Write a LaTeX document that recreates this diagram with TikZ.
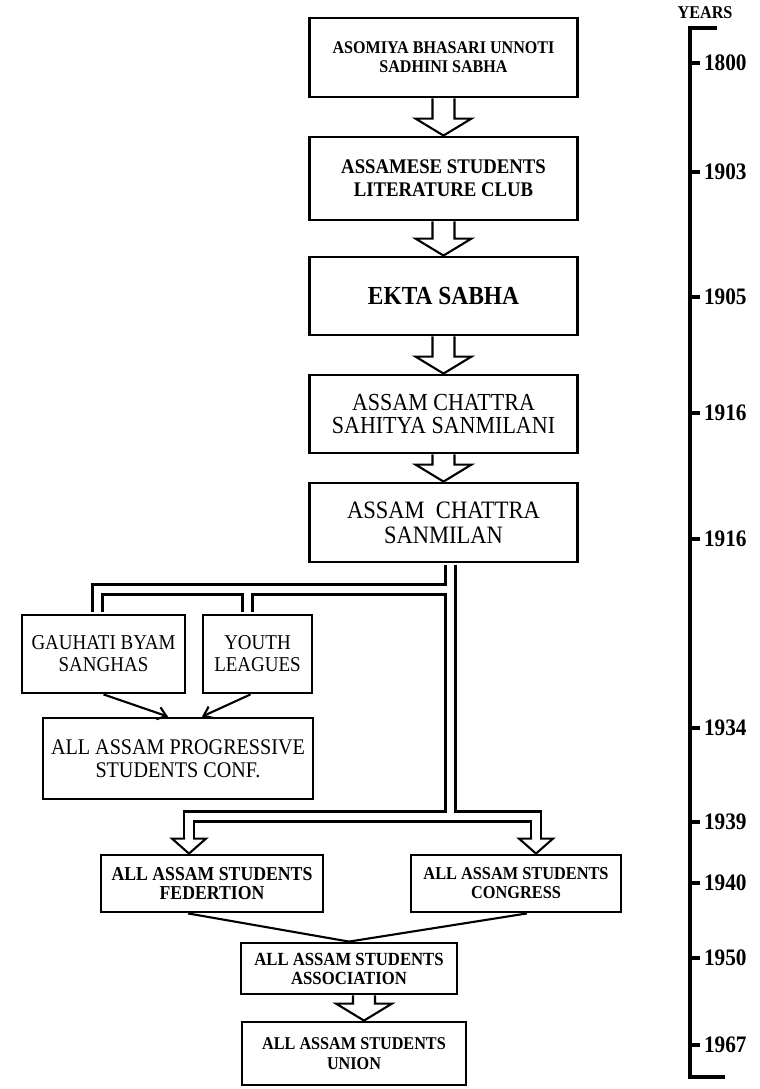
\documentclass[tikz,border=0pt]{standalone}
\usepackage{fontspec}
\setmainfont{Liberation Serif}[FakeStretch=0.9]
\usetikzlibrary{calc,arrows.meta}
\newcommand{\boxfont}[2]{\fontsize{#1}{#2}\selectfont}
% hollow block arrow from the bottom of #2 to the top of #3, shifted by #1
\newcommand{\HollowArrow}[3][0]{\draw[arrowline]($(#2.south)+(#1-11,0)$)--($(#2.south |- #3.north)+(#1-11,-17)$)--++(-17,0)
--($(#2.south |- #3.north)+(#1,0)$)--++(28,-17)--++(-17,0)--($(#2.south)+(#1+11,0)$);}
\newcommand{\PipeHead}[1]{\draw[arrowline]($(#1)+(-4,0)$)--($(#1)+(-17,0)$)--($(#1)+(0,15)$)--($(#1)+(17,0)$)--($(#1)+(4,0)$);}
\begin{document}
\begin{tikzpicture}[x=0.025cm,y=-0.025cm,
box/.style={draw,line width=2pt,align=center,inner sep=0pt},
stackbox/.style={box,minimum width=6.7cm,minimum height=#1},
arrowline/.style={line width=1.5pt,line join=miter},
pipeout/.style={line width=9.2pt,line join=miter},
pipein/.style={line width=5.3pt,white,line join=miter},
link/.style={line width=1.5pt},
tick/.style={line width=2.8pt}]
\useasboundingbox(0,0)rectangle(759,1089);
% main line of societies
\node[stackbox=1.975cm,font={\boxfont{12.7}{13.4}\bfseries}](asomiya)at(443.5,57.5){ASOMIYA BHASARI UNNOTI\\SADHINI SABHA};
\node[stackbox=2.075cm,font={\boxfont{14.8}{16.3}\bfseries}](literature)at(443.5,178.5){ASSAMESE STUDENTS\\LITERATURE CLUB};
\node[stackbox=1.95cm,font={\boxfont{18.5}{20}\bfseries}](ekta)at(443.5,296){EKTA SABHA};
\node[stackbox=1.95cm,font={\boxfont{17.4}{16.5}}](sahitya)at(443.5,414){ASSAM CHATTRA\\SAHITYA SANMILANI};
\node[stackbox=1.975cm,font={\boxfont{17.8}{17.9}}](sanmilan)at(443.5,522.5){ASSAM\ \ CHATTRA\\SANMILAN};
% branches
\node[box,minimum width=4.075cm,minimum height=1.95cm,font={\boxfont{15}{15.8}}](gauhati)at(103.5,654){GAUHATI BYAM\\SANGHAS};
\node[box,minimum width=2.725cm,minimum height=1.95cm,font={\boxfont{15}{15.8}}](youth)at(257.5,654){YOUTH\\LEAGUES};
\node[box,minimum width=6.75cm,minimum height=2.025cm,font={\boxfont{15.9}{16.5}}](progressive)at(178,758.5){ALL ASSAM PROGRESSIVE\\STUDENTS CONF.};
\node[box,minimum width=5.55cm,minimum height=1.425cm,font={\boxfont{14}{13.8}\bfseries}](federation)at(212,883.5){ALL ASSAM STUDENTS\\FEDERTION};
\node[box,minimum width=5.25cm,minimum height=1.425cm,font={\boxfont{12.9}{13.6}\bfseries}](congress)at(516,883.5){ALL ASSAM STUDENTS\\CONGRESS};
\node[box,minimum width=5.4cm,minimum height=1.275cm,font={\boxfont{13.2}{13.6}\bfseries}](association)at(349,968.5){ALL ASSAM STUDENTS\\ASSOCIATION};
\node[box,minimum width=5.6cm,minimum height=1.575cm,font={\boxfont{12.8}{14.4}\bfseries}](union)at(354,1053.5){ALL ASSAM STUDENTS\\UNION};
\HollowArrow{asomiya}{literature}
\HollowArrow{literature}{ekta}
\HollowArrow{ekta}{sahitya}
\HollowArrow{sahitya}{sanmilan}
\HollowArrow[15]{association}{union}
% double line pipes
\coordinate(fork)at($(sanmilan.south)+(7,26)$);
\coordinate(split)at($(sanmilan.south)+(7,253)$);
\coordinate(fedin)at($(federation.north)+(-23,-15)$);
\coordinate(congin)at($(congress.north)+(20,-15)$);
\foreach \layer in {pipeout,pipein}{
\draw[\layer,shorten <=1pt]($(sanmilan.south)+(7,0)$)--(fork);
\draw[\layer,shorten >=1pt](fork)-|($(gauhati.north)+(-6,0)$);
\draw[\layer,shorten >=1pt](fork)-|($(youth.north)+(-10,0)$);
\draw[\layer](fork)--(split);
\draw[\layer](split)-|(fedin);
\draw[\layer](split)-|(congin);
}
\PipeHead{fedin}
\PipeHead{congin}
\draw[link,-{Straight Barb[length=6pt,width=9pt]}](gauhati.south)--($(progressive.north)+(-10,0)$);
\draw[link,-{Straight Barb[length=6pt,width=9pt]}]($(youth.south)+(-7,0)$)--($(progressive.north)+(24,0)$);
\draw[link]($(federation.south)+(-24,0)$)--(association.north);
\draw[link]($(congress.south)+(11,0)$)--(association.north);
% time scale
\draw[line width=2.2pt](717,28)--(690,28)--(690,1077)--(725,1077);
\node[font={\boxfont{12.8}{14}\bfseries}](yearshead)at(705,13){YEARS};
\foreach \y/\yr [count=\i] in {63/1800,172/1903,297/1905,413/1916,539/1916,728/1934,822/1939,883/1940,958/1950,1045/1967}
\draw[tick](690,\y)--(700,\y)node[right,inner sep=1.5pt,font={\boxfont{16.8}{18}\bfseries}](year\i){\yr};
\end{tikzpicture}
\end{document}
